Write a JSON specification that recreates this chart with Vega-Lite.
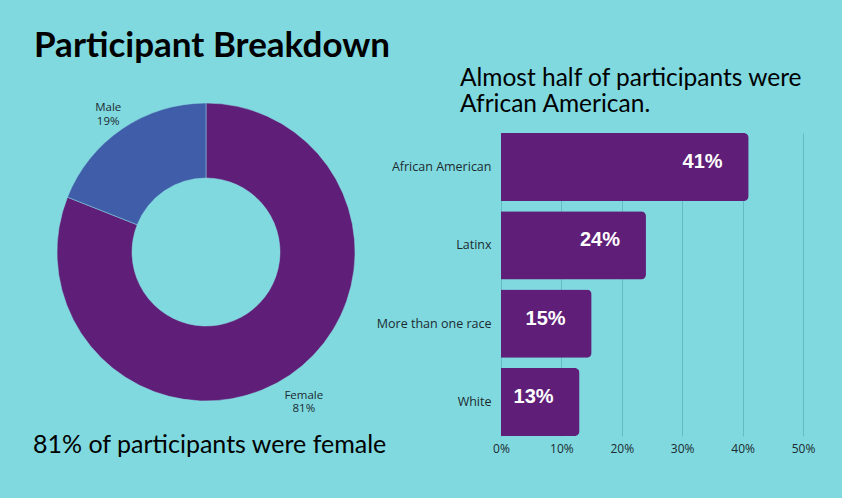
{
  "$schema": "https://vega.github.io/schema/vega-lite/v6.json",
  "background": "#7fd9df",
  "padding": {"left": 33, "top": 28, "right": 27, "bottom": 40},
  "title": {"text": "Participant Breakdown", "anchor": "start", "fontSize": 35, "font": "Lato", "fontWeight": "bold", "color": "#000000", "offset": 2, "dx": 1},
  "spacing": 122,
  "bounds": "flush",
  "config": {"view": {"stroke": null}, "font": "Open Sans"},
  "hconcat": [
    {
      "width": 346,
      "height": 238,
      "data": {"values": [
        {"gender": "Female", "pct": 0.81, "label": "Female\n81%"},
        {"gender": "Male", "pct": 0.19, "label": "Male\n19%"}
      ]},
      "title": {"text": "81% of participants were female", "orient": "bottom", "anchor": "start", "fontSize": 25, "font": "Lato", "fontWeight": "normal", "offset": 18, "color": "#000000"},
      "encoding": {
        "theta": {"field": "pct", "type": "quantitative", "stack": true},
        "order": {"field": "gender", "type": "ordinal"}
      },
      "layer": [
        {
          "mark": {"type": "arc", "innerRadius": 74, "outerRadius": 149, "stroke": "#8fdde3", "strokeWidth": 0.5},
          "encoding": {"color": {"field": "gender", "type": "nominal", "scale": {"domain": ["Female", "Male"], "range": ["#5f1f78", "#3f5da8"]}, "legend": null}}
        },
        {
          "mark": {"type": "text", "radius": 174, "lineBreak": "\n", "fontSize": 11.5, "color": "#1d2b30", "font": "Open Sans"},
          "encoding": {"text": {"field": "label", "type": "nominal"}}
        }
      ]
    },
    {
      "width": 302,
      "height": 303,
      "data": {"values": [
        {"race": "African American", "pct": 0.41},
        {"race": "Latinx", "pct": 0.24},
        {"race": "More than one race", "pct": 0.15},
        {"race": "White", "pct": 0.13}
      ]},
      "title": {"text": ["Almost half of participants were", "African American."], "anchor": "start", "frame": "group", "dx": -41, "fontSize": 24.5, "font": "Lato", "fontWeight": "normal", "lineHeight": 26, "offset": 16, "color": "#000000"},
      "encoding": {
        "y": {"field": "race", "type": "nominal", "sort": null, "scale": {"paddingInner": 0.13, "paddingOuter": 0},
          "axis": {"title": null, "ticks": false, "domain": false, "grid": false, "labelPadding": 10, "labelFontSize": 12.5, "labelColor": "#1d2b30", "labelFont": "Open Sans", "minExtent": 110, "maxExtent": 110}},
        "x": {"field": "pct", "type": "quantitative", "scale": {"domain": [0, 0.5]},
          "axis": {"title": null, "format": ".0%", "values": [0, 0.1, 0.2, 0.3, 0.4, 0.5], "grid": true, "gridColor": "#63bcc5", "gridWidth": 1, "ticks": false, "domain": false, "labelPadding": 7, "labelFontSize": 12, "labelColor": "#1d2b30", "labelFont": "Open Sans", "labelFlush": false}}
      },
      "layer": [
        {"mark": {"type": "bar", "color": "#5f1f78", "cornerRadiusEnd": 5}},
        {"mark": {"type": "text", "color": "white", "font": "Liberation Sans", "fontWeight": "bold", "fontSize": 20, "dx": -46, "dy": -5, "align": "center", "baseline": "middle"},
          "encoding": {"text": {"field": "pct", "type": "quantitative", "format": ".0%"}}}
      ]
    }
  ]
}
